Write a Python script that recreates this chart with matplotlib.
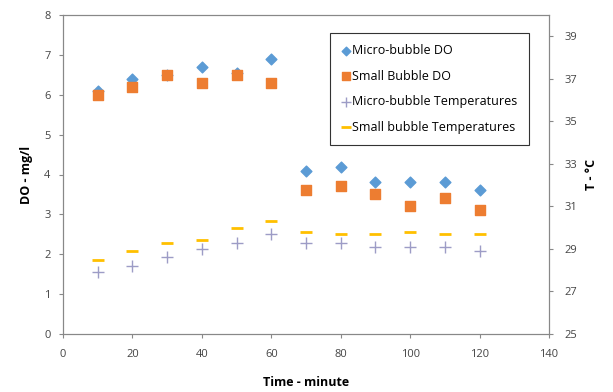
import matplotlib
matplotlib.use("Agg")
import matplotlib.pyplot as plt

plt.rcParams['font.family'] = ['Open Sans', 'DejaVu Sans']

time = [10, 20, 30, 40, 50, 60, 70, 80, 90, 100, 110, 120]
do_micro = [6.1, 6.4, 6.5, 6.7, 6.55, 6.9, 4.1, 4.2, 3.8, 3.8, 3.8, 3.6]
do_small = [6.0, 6.2, 6.5, 6.3, 6.5, 6.3, 3.6, 3.7, 3.5, 3.2, 3.4, 3.1]
t_micro = [27.9, 28.2, 28.6, 29.0, 29.3, 29.7, 29.3, 29.3, 29.1, 29.1, 29.1, 28.9]
t_small = [28.5, 28.9, 29.3, 29.4, 30.0, 30.3, 29.8, 29.7, 29.7, 29.8, 29.7, 29.7]

fig = plt.figure(figsize=(6.13, 3.92), dpi=100)
ax = fig.add_axes([63/613, 1 - 334/392, 486/613, 319/392])
ax2 = ax.twinx()

h1 = ax.scatter(time, do_micro, marker="D", s=30, color="#5B9BD5", label="Micro-bubble DO", zorder=3)
h2 = ax.scatter(time, do_small, marker="s", s=55, color="#ED7D31", label="Small Bubble DO", zorder=3)
h3 = ax2.scatter(time, t_micro, marker="+", s=70, color="#9d9cc6", linewidths=1.0,
                 label="Micro-bubble Temperatures", zorder=3)
h4 = ax2.scatter(time, t_small, marker="_", s=70, color="#FFC000", linewidths=2.0,
                 label="Small bubble Temperatures", zorder=3)

ax.set_xlim(0, 140)
ax.set_ylim(0, 8)
ax2.set_ylim(25, 40)
ax.set_xticks(range(0, 141, 20))
ax.set_yticks(range(0, 9))
ax2.set_yticks(range(25, 40, 2))

for a in (ax, ax2):
    a.tick_params(labelsize=8, labelcolor="#444444", color="#888888", length=3)
    for s in a.spines.values():
        s.set_color("#888888")
ax.tick_params(axis="x", pad=8)
ax.tick_params(axis="y", pad=6)
ax2.tick_params(axis="y", pad=8)

ax.set_xlabel("Time - minute", fontsize=9, fontweight="bold", labelpad=11)
ax.set_ylabel("DO - mg/l", fontsize=9, fontweight="bold", labelpad=8)
ax2.set_ylabel("T - \u00b0C", fontsize=9, fontweight="bold", labelpad=6)

leg = ax2.legend(handles=[h1, h2, h3, h4], loc="upper left",
                 bbox_to_anchor=(0.549, 0.944), fontsize=9, frameon=True,
                 fancybox=False, handletextpad=0.1, handlelength=0.8,
                 markerscale=0.8, borderaxespad=0, labelspacing=1.0,
                 borderpad=0.9)
leg.get_frame().set_edgecolor("#333333")
leg.get_frame().set_linewidth(0.8)
leg.get_frame().set_alpha(1)

fig.savefig("out.png", dpi=100)
